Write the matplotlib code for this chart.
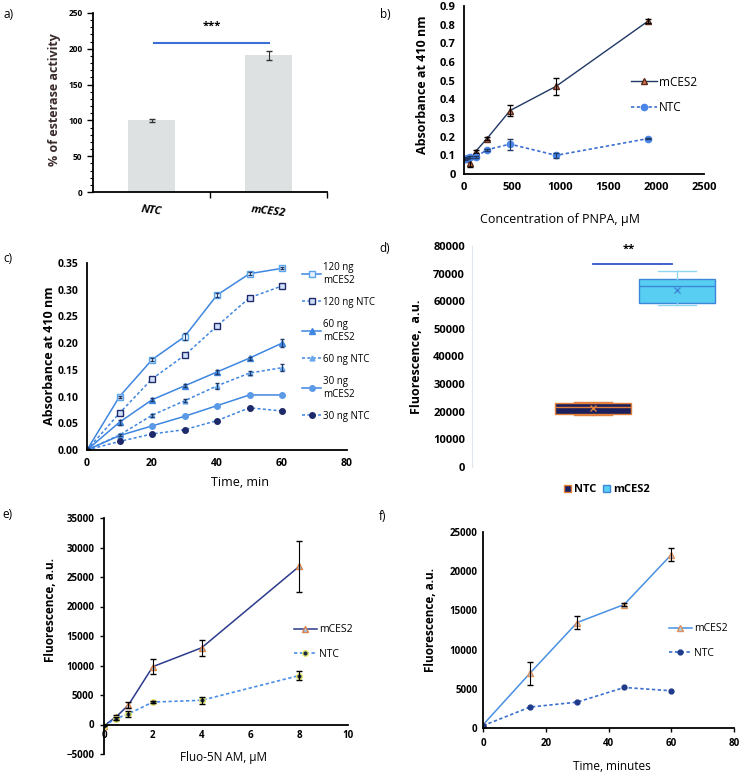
import matplotlib
import matplotlib.pyplot as plt
from matplotlib.patches import Patch

matplotlib.use("Agg")

plt.rcParams["font.family"] = ["Open Sans", "DejaVu Sans"]
plt.rcParams["font.weight"] = "bold"
plt.rcParams["axes.labelweight"] = "bold"

W, H = 744, 776

# a) esterase activity
a_groups = ["NTC", "mCES2"]
a_values = [100, 191]
a_err = [2, 6]

# b) PNPA concentration series
b_conc = [30, 60, 120, 240, 480, 960, 1920]
b_mces2 = [0.08, 0.06, 0.12, 0.19, 0.34, 0.47, 0.82]
b_mces2_err = [0.005, 0.02, 0.01, 0.006, 0.03, 0.045, 0.01]
b_ntc_conc = [15, 30, 60, 120, 240, 480, 960, 1920]
b_ntc = [0.08, 0.085, 0.09, 0.09, 0.13, 0.16, 0.10, 0.19]
b_ntc_err = [0.005, 0.005, 0.005, 0.005, 0.006, 0.03, 0.015, 0.005]

# c) time course for different enzyme amounts
c_time = [0, 10, 20, 30, 40, 50, 60]
c_120_mces2 = [0, 0.100, 0.169, 0.212, 0.290, 0.330, 0.340]
c_120_ntc = [0, 0.069, 0.133, 0.177, 0.232, 0.285, 0.307]
c_60_mces2 = [0, 0.052, 0.094, 0.120, 0.146, 0.172, 0.200]
c_60_ntc = [0, 0.028, 0.065, 0.092, 0.120, 0.144, 0.154]
c_30_mces2 = [0, 0.027, 0.045, 0.063, 0.083, 0.103, 0.103]
c_30_ntc = [0, 0.016, 0.030, 0.038, 0.055, 0.079, 0.073]
c_120_mces2_err = [0, 0.002, 0.003, 0.007, 0.003, 0.003, 0.002]
c_60_mces2_err = [0, 0.005, 0.003, 0.003, 0.004, 0.003, 0.007]
c_60_ntc_err = [0, 0.002, 0.003, 0.003, 0.006, 0.004, 0.007]

# d) box plot statistics
d_groups = ["NTC", "mCES2"]
d_whislo = [19000, 58800]
d_q1 = [19300, 59500]
d_med = [21600, 65400]
d_mean = [21500, 64200]
d_q3 = [23300, 68100]
d_whishi = [23600, 70800]

# e) Fluo-5N AM concentration
e_conc = [0, 0.5, 1, 2, 4, 8]
e_mces2 = [-200, 1300, 3300, 9800, 13000, 26800]
e_mces2_err = [100, 300, 500, 1300, 1400, 4300]
e_ntc = [-200, 1000, 1800, 3800, 4100, 8300]
e_ntc_err = [100, 200, 500, 200, 600, 700]

# f) time course, minutes
f_time = [0, 15, 30, 45, 60]
f_mces2 = [400, 7000, 13450, 15750, 22100]
f_mces2_err = [100, 1480, 780, 200, 850]
f_ntc = [300, 2670, 3300, 5170, 4750]


def rect(x0, y0, x1, y1):
    return [x0 / W, 1 - y1 / H, (x1 - x0) / W, (y1 - y0) / H]


def fpos(x, y):
    return x / W, 1 - y / H


def base_axes(ax):
    ax.spines["top"].set_visible(False)
    ax.spines["right"].set_visible(False)
    for s in ("left", "bottom"):
        ax.spines[s].set_linewidth(1.3)
    ax.tick_params(labelsize=7, width=1, length=0)


def xlab(ax, text, x, y, size=8.5):
    ax.set_xlabel(text, fontsize=size, fontweight="normal")
    ax.xaxis.set_label_coords(*fpos(x, y), transform=fig.transFigure)
    ax.xaxis.label.set_va("center")


def ylab(ax, text, x, y, size=8.5, color="black"):
    ax.set_ylabel(text, fontsize=size, color=color)
    ax.yaxis.set_label_coords(*fpos(x, y), transform=fig.transFigure)
    ax.yaxis.label.set_va("center")


def leg(ax, handles, x, y, size=7.5, spacing=1.3, loc="center left"):
    ax.legend(handles=handles, loc=loc, bbox_to_anchor=fpos(x, y),
              bbox_transform=fig.transFigure, frameon=False, handlelength=2.2,
              handletextpad=0.2, labelspacing=spacing, borderpad=0,
              borderaxespad=0, prop={"weight": "normal", "size": size})


fig = plt.figure(figsize=(7.44, 7.76), dpi=100)

# ---------- a)
ax = fig.add_axes(rect(93, 13, 327, 192))
base_axes(ax)
ax.bar([0, 1], a_values, width=0.4, color="#dde1e2", yerr=a_err,
       error_kw=dict(ecolor="#333333", capsize=2, elinewidth=0.8))
ax.set_xlim(-0.5, 1.5)
ax.set_ylim(0, 250)
ax.set_yticks(range(0, 251, 50))
ax.set_yticks(range(0, 251, 10), minor=True)
ax.tick_params(axis="y", which="major", length=4, width=1, direction="out")
ax.tick_params(axis="y", which="minor", length=2, width=0.8, direction="out")
ax.set_xticks([0, 1])
ax.set_xticklabels(a_groups, fontsize=8, style="italic", rotation=-7)
ax.set_xticks([0.5, 1.5], minor=True)
ax.tick_params(axis="x", which="minor", length=4, width=1, direction="out")
ax.tick_params(axis="x", which="major", pad=9)
ax.tick_params(axis="y", labelsize=6)
ax.plot([0.02, 1.0], [208, 208], color="#3b6fd6", lw=1.5)
ax.text(0.52, 231, "***", ha="center", va="center", fontsize=8)
ylab(ax, "% of esterase activity", 55, 100, size=9, color="#3a2a2a")

# ---------- b)
ax = fig.add_axes(rect(464, 6, 704, 174))
base_axes(ax)
h1, = ax.plot(b_conc, b_mces2, color="#1f3864", lw=1, marker="^", ms=4,
              mfc="#d9774b", mec="#5a2a1a", label="mCES2")
ax.errorbar(b_conc, b_mces2, yerr=b_mces2_err, fmt="none", ecolor="black",
            capsize=2, elinewidth=0.8)
h2, = ax.plot(b_ntc_conc, b_ntc, color="#3f6fd0", lw=1.2, ls=(0, (2, 1.5)), marker="o",
              ms=4.5, mfc="#4a86e8", mec="#4a86e8", label="NTC")
ax.errorbar(b_ntc_conc, b_ntc, yerr=b_ntc_err, fmt="none", ecolor="#1f3864",
            capsize=2, elinewidth=0.8)
ax.set_xlim(0, 2500)
ax.set_ylim(0, 0.9)
ax.set_xticks(range(0, 2501, 500))
ax.set_yticks([0, 0.1, 0.2, 0.3, 0.4, 0.5, 0.6, 0.7, 0.8, 0.9])
ax.set_yticklabels(["0", "0.1", "0.2", "0.3", "0.4", "0.5", "0.6", "0.7", "0.8", "0.9"])
ax.tick_params(labelsize=8, pad=6)
ylab(ax, "Absorbance at 410 nm", 422, 85, size=9)
xlab(ax, "Concentration of PNPA, µM", 560, 220, size=9)
leg(ax, [h1, h2], 631, 95, size=8.5, spacing=1.1)

# ---------- c)
ax = fig.add_axes(rect(87, 263, 347, 450))
base_axes(ax)
blue = "#3f86e0"
navy = "#1f2a6b"
dash = (0, (2, 1.5))
ek = dict(fmt="none", capsize=1.5, elinewidth=0.7, ecolor="#1f3864")
hc = []
hc.append(ax.plot(c_time, c_120_mces2, color=blue, lw=1.1, marker="s", ms=4,
                  mfc="#e8f2ff", mec="#5aa6ee", label="120 ng\nmCES2")[0])
hc.append(ax.plot(c_time, c_120_ntc, color=blue, lw=1.1, ls=dash, marker="s", ms=4,
                  mfc="#cfe0f8", mec=navy, label="120 ng NTC")[0])
hc.append(ax.plot(c_time, c_60_mces2, color=blue, lw=1.1, marker="^", ms=4,
                  mfc=blue, mec=blue, label="60 ng\nmCES2")[0])
hc.append(ax.plot(c_time, c_60_ntc, color=blue, lw=1.1, ls=dash, marker="^", ms=3.5,
                  mfc="#6aa8ec", mec="#6aa8ec", label="60 ng NTC")[0])
hc.append(ax.plot(c_time, c_30_mces2, color=blue, lw=1.1, marker="o", ms=4,
                  mfc="#5b9ae6", mec="#5b9ae6", label="30 ng\nmCES2")[0])
hc.append(ax.plot(c_time, c_30_ntc, color=blue, lw=1.1, ls=dash, marker="o", ms=4,
                  mfc=navy, mec=navy, label="30 ng NTC")[0])
ax.errorbar(c_time, c_120_mces2, yerr=c_120_mces2_err, **ek)
ax.errorbar(c_time, c_60_mces2, yerr=c_60_mces2_err, **ek)
ax.errorbar(c_time, c_60_ntc, yerr=c_60_ntc_err, **ek)
ax.set_xlim(0, 80)
ax.set_ylim(0, 0.35)
ax.set_xticks(range(0, 81, 20))
ax.set_yticks([0, 0.05, 0.1, 0.15, 0.2, 0.25, 0.3, 0.35])
ax.set_yticklabels(["0.00", "0.05", "0.10", "0.15", "0.20", "0.25", "0.30", "0.35"])
ax.tick_params(labelsize=7.5, pad=6)
ylab(ax, "Absorbance at 410 nm", 50, 356, size=9)
xlab(ax, "Time, min", 240, 482, size=9)
ax.legend(handles=hc, loc="upper left", bbox_to_anchor=fpos(302, 262),
          bbox_transform=fig.transFigure, frameon=False, handlelength=2.0,
          handletextpad=0.2, labelspacing=1.15, borderpad=0, borderaxespad=0,
          prop={"weight": "normal", "size": 7})

# ---------- d)
ax = fig.add_axes(rect(472, 246, 730, 467))
ax.spines["top"].set_visible(False)
ax.spines["right"].set_visible(False)
ax.spines["bottom"].set_visible(False)
ax.spines["left"].set_color("#dfe6ee")
ax.spines["left"].set_linewidth(0.8)
ax.tick_params(length=0, labelsize=8, pad=5)
stats = []
for i in range(2):
    stats.append(dict(label=d_groups[i], whislo=d_whislo[i], q1=d_q1[i], med=d_med[i],
                      q3=d_q3[i], whishi=d_whishi[i], mean=d_mean[i], fliers=[]))
box_face = ["#1b1f5c", "#58cff2"]
box_edge = ["#e0803c", "#3d86d8"]
whisk = ["#e0803c", "#8fd6f2"]
for i in range(2):
    ax.bxp([stats[i]], positions=[[0.469, 0.795][i]], widths=0.295, patch_artist=True,
           showmeans=True, showcaps=True,
           boxprops=dict(facecolor=box_face[i], edgecolor=box_edge[i], lw=1),
           medianprops=dict(color=box_edge[i], lw=1),
           whiskerprops=dict(color=whisk[i], lw=1),
           capprops=dict(color=whisk[i], lw=1),
           meanprops=dict(marker="x", markersize=4, markeredgecolor=box_edge[i]))
ax.set_xlim(0, 1)
ax.set_ylim(0, 80000)
ax.set_xticks([])
ax.set_yticks(range(0, 80001, 10000))
ax.plot([0.469, 0.775], [73600, 73600], color="#2f55c8", lw=1.3)
ax.text(0.609, 78800, "**", ha="center", va="center", fontsize=8)
ylab(ax, "Fluorescence,  a.u.", 417, 357, size=9)
ax.legend(handles=[Patch(facecolor=box_face[i], edgecolor=box_edge[i], label=d_groups[i])
                   for i in range(2)],
          loc="center", bbox_to_anchor=fpos(607, 490), bbox_transform=fig.transFigure,
          ncol=2, frameon=False, handlelength=0.6, handleheight=0.6, handletextpad=0.3,
          columnspacing=0.6, borderpad=0, prop={"weight": "bold", "size": 8})

# ---------- e)
ax = fig.add_axes(rect(104, 518, 348, 754))
base_axes(ax)
ax.spines["bottom"].set_position(("data", 0))
he1, = ax.plot(e_conc, e_mces2, color="#2b3a8c", lw=1.1, marker="^", ms=4,
               mfc="#9cc6f2", mec="#d9824a", label="mCES2")
ax.errorbar(e_conc, e_mces2, yerr=e_mces2_err, fmt="none", ecolor="black",
            capsize=2, elinewidth=0.8)
he2, = ax.plot(e_conc, e_ntc, color="#4a8fe6", lw=1.2, ls=dash, marker="o", ms=4,
               mfc="#1a2a4a", mec="#e8e86a", label="NTC")
ax.errorbar(e_conc, e_ntc, yerr=e_ntc_err, fmt="none", ecolor="black",
            capsize=2, elinewidth=0.8)
ax.set_xlim(0, 10)
ax.set_ylim(-5000, 35000)
ax.set_xticks(range(0, 11, 2))
ax.set_yticks(range(-5000, 35001, 5000))
ax.tick_params(axis="y", length=3, width=1, direction="out")
ax.tick_params(labelsize=7, pad=4)
ylab(ax, "Fluorescence, a.u.", 50, 610, size=8.5)
xlab(ax, "Fluo-5N AM, µM", 223, 758, size=8.5)
leg(ax, [he1, he2], 294, 642, size=7.5)

# ---------- f)
ax = fig.add_axes(rect(483, 532, 734, 728))
base_axes(ax)
hf1, = ax.plot(f_time, f_mces2, color="#4a90e2", lw=1.1, marker="^", ms=4,
               mfc="#a8cdf2", mec="#e0905a", label="mCES2")
ax.errorbar(f_time, f_mces2, yerr=f_mces2_err, fmt="none", ecolor="black",
            capsize=2, elinewidth=0.8)
hf2, = ax.plot(f_time, f_ntc, color="#3a6fd0", lw=1.2, ls=dash, marker="o", ms=3.5,
               mfc="#1f3a8a", mec="#1f3a8a", label="NTC")
ax.set_xlim(0, 80)
ax.set_ylim(0, 25000)
ax.set_xticks(range(0, 81, 20))
ax.set_yticks(range(0, 25001, 5000))
ax.tick_params(axis="x", length=3, width=1, direction="out")
ax.tick_params(labelsize=7, pad=4)
ylab(ax, "Fluorescence, a.u.", 430, 620, size=8.5)
xlab(ax, "Time, minutes", 612, 766, size=8.5)
leg(ax, [hf1, hf2], 669, 641, size=7.5)

# panel letters
for lab, x, y in [("a)", 3, 14), ("b)", 380, 15), ("c)", 3, 258),
                  ("d)", 379, 248), ("e)", 2, 514), ("f)", 379, 516)]:
    fig.text(*fpos(x, y), lab, fontsize=8.5, fontweight="normal", va="center")

fig.savefig("out.png", dpi=100)
